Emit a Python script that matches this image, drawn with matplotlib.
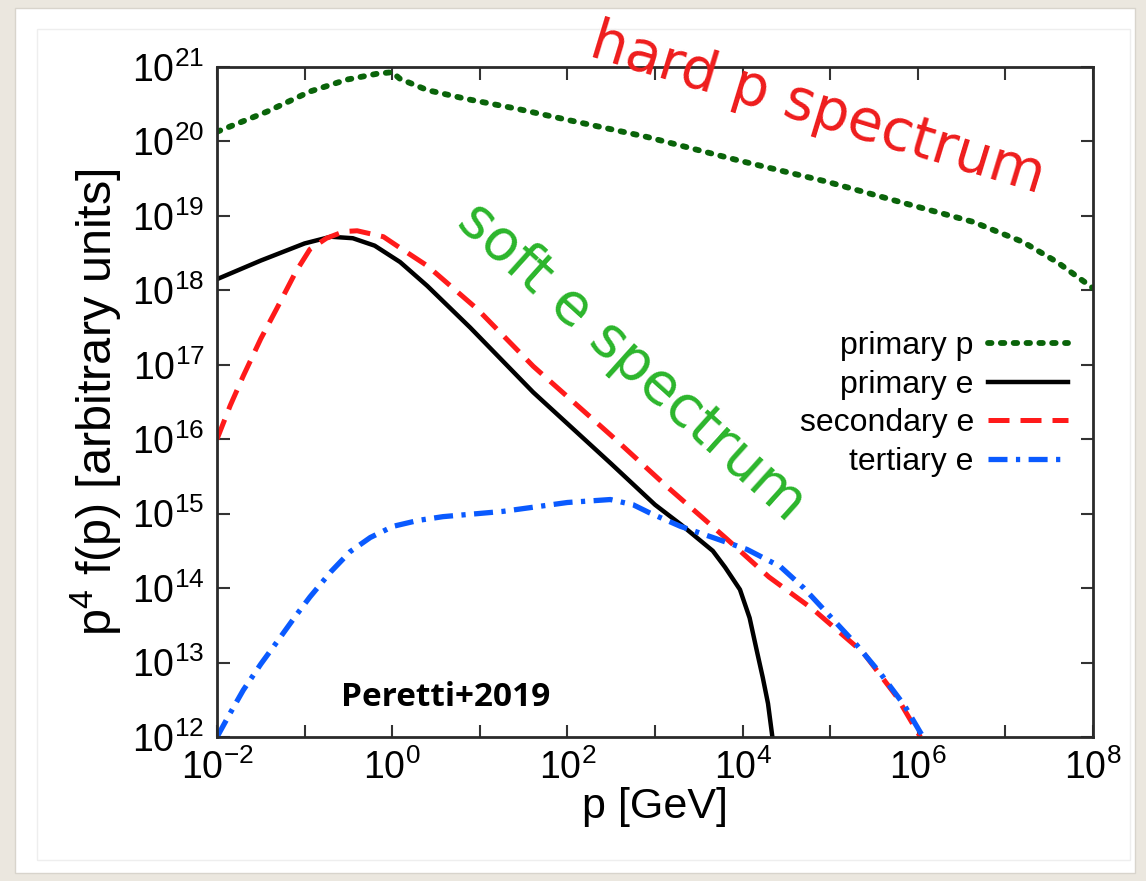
import numpy as np
import matplotlib
matplotlib.use('Agg')
import matplotlib.pyplot as plt
from matplotlib.patches import Rectangle

plt.rcParams['font.family'] = ['Liberation Sans', 'DejaVu Sans']
plt.rcParams['mathtext.fontset'] = 'custom'
plt.rcParams['mathtext.rm'] = 'Liberation Sans'
plt.rcParams['mathtext.it'] = 'Liberation Sans:italic'
plt.rcParams['mathtext.default'] = 'regular'

# log10 of momentum [GeV] and log10 of p^4 f(p)
lp_prim_p = [-2.0, -1.43, -0.94, -0.52, -0.17, 0.0, 0.09, 0.40, 0.85, 1.42, 2.0, 2.91,
             3.97, 4.96, 5.88, 6.63, 7.20, 7.59, 8.0]
lf_prim_p = [20.13, 20.40, 20.67, 20.83, 20.91, 20.93, 20.84, 20.69, 20.57, 20.44, 20.29, 20.06,
             19.74, 19.46, 19.16, 18.92, 18.65, 18.38, 18.03]

lp_prim_e = [-2.0, -1.5, -1.0, -0.7, -0.45, -0.2, 0.09, 0.4, 0.89, 1.61, 2.5, 3.0,
             3.3, 3.66, 3.8, 3.97, 4.08, 4.16, 4.23, 4.29, 4.34]
lf_prim_e = [18.15, 18.40, 18.63, 18.72, 18.70, 18.60, 18.38, 18.06, 17.50, 16.63, 15.67, 15.12,
             14.85, 14.50, 14.28, 13.98, 13.60, 13.17, 12.80, 12.45, 12.0]

lp_sec_e = [-2.0, -1.85, -1.70, -1.5, -1.32, -1.1, -0.94, -0.75, -0.55, -0.40, -0.10, 0.09,
            0.40, 0.97, 1.61, 2.5, 3.14, 3.82, 4.3, 4.81, 5.38, 5.76, 6.03]
lf_sec_e = [16.0, 16.45, 16.85, 17.35, 17.75, 18.25, 18.55, 18.70, 18.79, 18.80, 18.72, 18.57,
            18.33, 17.75, 16.98, 16.05, 15.36, 14.66, 14.15, 13.71, 13.13, 12.54, 12.0]

lp_ter_e = [-2.0, -1.85, -1.70, -1.5, -1.32, -1.1, -0.94, -0.7, -0.48, -0.25, 0.01, 0.3,
            0.58, 1.26, 2.0, 2.49, 2.75, 2.94, 3.29, 3.66, 4.05, 4.43, 4.7, 5.0,
            5.3, 5.57, 5.85, 6.06]
lf_ter_e = [12.0, 12.32, 12.63, 12.98, 13.27, 13.63, 13.88, 14.22, 14.49, 14.68, 14.83, 14.91,
            14.96, 15.03, 15.15, 15.19, 15.12, 15.01, 14.83, 14.68, 14.52, 14.29, 14.0, 13.62,
            13.24, 12.86, 12.42, 12.0]

W, H = 1146, 881
fig = plt.figure(figsize=(W / 100, H / 100), dpi=100)
fig.patch.set_facecolor('#ebe7df')

# slide card
fig.add_artist(Rectangle((15 / W, 8 / H), 1120 / W, 865 / H, transform=fig.transFigure,
                         facecolor='white', edgecolor='#d8d4cc', lw=1.0, zorder=0))
fig.add_artist(Rectangle((37 / W, 21 / H), 1093 / W, 831 / H, transform=fig.transFigure,
                         facecolor='none', edgecolor='#eeeeee', lw=1.0, zorder=0))

ax = fig.add_axes([217 / W, 1 - 737 / H, 876 / W, 670 / H])
ax.set_facecolor('none')

ax.plot(10 ** np.array(lp_prim_p), 10 ** np.array(lf_prim_p), color='#0a640a', lw=4.2,
        ls=(0, (0.6, 1.6)), dash_capstyle='round', label='primary p')
ax.plot(10 ** np.array(lp_prim_e), 10 ** np.array(lf_prim_e), color='black', lw=3.2,
        label='primary e')
ax.plot(10 ** np.array(lp_sec_e), 10 ** np.array(lf_sec_e), color='#ff1a1a', lw=3.6,
        ls=(0, (4.2, 2.2)), label='secondary e')
ax.plot(10 ** np.array(lp_ter_e), 10 ** np.array(lf_ter_e), color='#0a5aff', lw=3.8,
        ls=(0, (3.6, 1.6, 0.8, 1.6)), label='tertiary e')

ax.set_xscale('log')
ax.set_yscale('log')
ax.set_xlim(1e-2, 1e8)
ax.set_ylim(1e12, 1e21)

xt = [10.0 ** k for k in range(-2, 9)]
ax.set_xticks(xt)
ax.set_xticklabels(['$10^{%d}$' % k if k % 2 == 0 else '' for k in range(-2, 9)])
yt = [10.0 ** k for k in range(12, 22)]
ax.set_yticks(yt)
ax.set_yticklabels(['$10^{%d}$' % k for k in range(12, 22)])
ax.minorticks_off()
ax.tick_params(which='major', direction='in', length=9, width=1.5, top=True, right=True,
               labelsize=27, pad=9, color='#333333')
for s in ax.spines.values():
    s.set_linewidth(2.0)
    s.set_color('#2a2a2a')

ax.set_xlabel('p [GeV]', fontsize=31, labelpad=0)
ax.set_ylabel('p$^4$ f(p) [arbitrary units]', fontsize=35, labelpad=6)

leg = ax.legend(loc='center right', bbox_to_anchor=(1068 / W, 1 - 404 / H),
                bbox_transform=fig.transFigure, frameon=False, markerfirst=False,
                fontsize=23, handlelength=2.5, handletextpad=0.45, labelspacing=0.27,
                borderpad=0, borderaxespad=0)

fig.text(818 / W, 1 - 110 / H, 'hard p spectrum', color='#ee1c1c', fontsize=41,
         rotation=-17, ha='center', va='center', family='DejaVu Sans')
fig.text(632 / W, 1 - 362 / H, 'soft e spectrum', color='#2bb52b', fontsize=41,
         rotation=-42, ha='center', va='center', family='DejaVu Sans')
fig.text(446 / W, 1 - 697 / H, 'Peretti+2019', color='black', fontsize=24,
         fontweight='bold', ha='center', va='center', family='Open Sans')

fig.savefig('out.png', dpi=100, facecolor=fig.get_facecolor())
